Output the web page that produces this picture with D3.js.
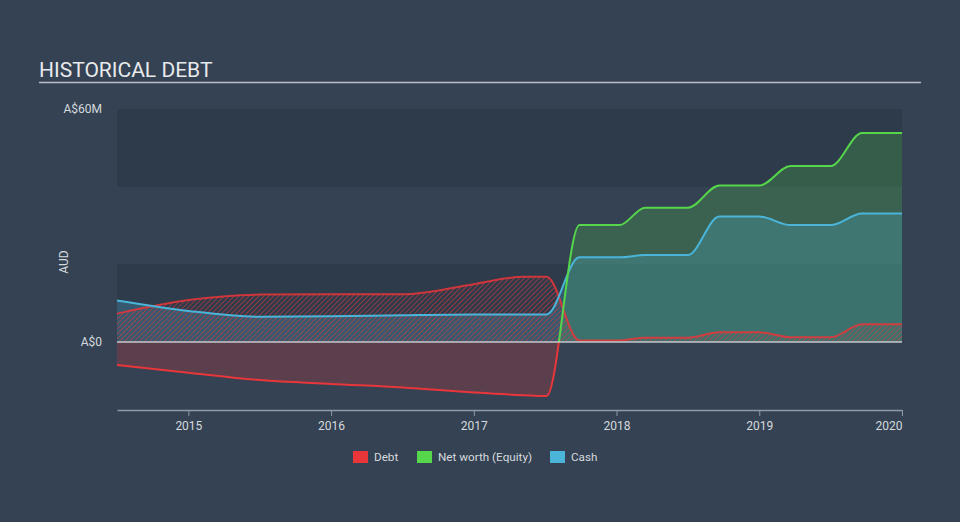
<!DOCTYPE html>
<html><head><meta charset="utf-8">
<script src="https://cdn.jsdelivr.net/npm/d3@7/dist/d3.min.js"></script>
<style>
html,body{margin:0;padding:0;background:#344253;}
svg{display:block;font-family:Roboto,"Noto Sans",sans-serif;}
</style></head>
<body>
<svg id="chart" width="960" height="522"></svg>
<script>
// ---- data (A$ millions) ----
const dates  = [2014.5, 2015.0, 2015.5, 2016.0, 2016.5, 2017.0, 2017.35, 2017.51, 2017.74, 2018.02, 2018.2, 2018.5, 2018.72, 2019.0, 2019.22, 2019.5, 2019.72, 2020.0];
const debt   = [7.3, 10.8, 12.2, 12.3, 12.3, 14.9, 16.8, 16.8, 0.4, 0.4, 1.1, 1.1, 2.5, 2.5, 1.2, 1.2, 4.6, 4.6];
const equity = [-5.9, -7.9, -9.8, -10.8, -11.7, -13.0, -13.7, -13.9, 30.1, 30.1, 34.6, 34.6, 40.3, 40.3, 45.3, 45.3, 53.8, 53.8];
const cash   = [10.7, 8.0, 6.5, 6.6, 6.9, 7.1, 7.1, 7.1, 21.8, 21.8, 22.4, 22.4, 32.3, 32.3, 30.1, 30.1, 33.1, 33.1];
const yearTicks = [2015, 2016, 2017, 2018, 2019, 2020];
const yTickValues = [0, 60];
const yTickLabels = ["A$0", "A$60M"];
const seriesNames = ["Debt", "Net worth (Equity)", "Cash"];
const seriesColors = ["#e8363a", "#55d64b", "#4ab5d9"];

const svg = d3.select("#chart");
const W = 960, H = 522;
const L = 117, R = 902, T = 109, B = 410;

const x = d3.scaleLinear().domain([2014.5, 2020.0]).range([L, R]);
const y = d3.scaleLinear().domain([0, 60]).range([342, T]);
const y0 = y(0);

// title
svg.append("text").attr("x", 39).attr("y", 77).attr("fill", "#e8eaec")
  .attr("font-size", 21).text("HISTORICAL DEBT");
svg.append("line").attr("x1", 39).attr("x2", 921).attr("y1", 82.5).attr("y2", 82.5)
  .attr("stroke", "#b9c0c8").attr("stroke-width", 1.5);

// bands
const bandEdges = [60, 40, 20, 0];
for (let i = 0; i < 3; i++) {
  if (i % 2 === 0) {
    svg.append("rect").attr("x", L).attr("width", R - L)
      .attr("y", y(bandEdges[i])).attr("height", y(bandEdges[i + 1]) - y(bandEdges[i]))
      .attr("fill", "#2e3b4b");
  }
}

// defs
const defs = svg.append("defs");
const pat = defs.append("pattern").attr("id", "hatch").attr("patternUnits", "userSpaceOnUse")
  .attr("width", 3.5).attr("height", 3.5).attr("patternTransform", "rotate(45)");
pat.append("line").attr("x1", 0).attr("y1", 0).attr("x2", 0).attr("y2", 3.5)
  .attr("stroke", "#e8363a").attr("stroke-width", 1.5).attr("stroke-opacity", 0.7);
defs.append("clipPath").attr("id", "above").append("rect")
  .attr("x", L).attr("y", 0).attr("width", R - L).attr("height", y0);
defs.append("clipPath").attr("id", "below").append("rect")
  .attr("x", L).attr("y", y0).attr("width", R - L).attr("height", H - y0);

const idx = d3.range(dates.length);
const curve = d3.curveMonotoneX;
const area = (vals) => d3.area().curve(curve).x(i => x(dates[i])).y0(y0).y1(i => y(vals[i]));
const line = (vals) => d3.line().curve(curve).x(i => x(dates[i])).y(i => y(vals[i]));

// equity fills
svg.append("path").datum(idx).attr("d", area(equity)).attr("clip-path", "url(#above)")
  .attr("fill", "#55d64b").attr("fill-opacity", 0.22);
svg.append("path").datum(idx).attr("d", area(equity)).attr("clip-path", "url(#below)")
  .attr("fill", "#e8363a").attr("fill-opacity", 0.22);
// cash fill
svg.append("path").datum(idx).attr("d", area(cash))
  .attr("fill", "#4ab5d9").attr("fill-opacity", 0.25);
// debt hatch
svg.append("path").datum(idx).attr("d", area(debt)).attr("fill", "url(#hatch)");

// lines
svg.append("path").datum(idx).attr("d", line(debt)).attr("fill", "none")
  .attr("stroke", "#e8363a").attr("stroke-width", 2).attr("stroke-opacity", 0.85);
svg.append("path").datum(idx).attr("d", line(cash)).attr("fill", "none")
  .attr("stroke", "#4ab5d9").attr("stroke-width", 2);
svg.append("path").datum(idx).attr("d", line(equity)).attr("fill", "none").attr("clip-path", "url(#above)")
  .attr("stroke", "#55d64b").attr("stroke-width", 2);
svg.append("path").datum(idx).attr("d", line(equity)).attr("fill", "none").attr("clip-path", "url(#below)")
  .attr("stroke", "#e8363a").attr("stroke-width", 2);

// zero line
svg.append("line").attr("x1", L).attr("x2", R).attr("y1", y0).attr("y2", y0)
  .attr("stroke", "#c6c9cd").attr("stroke-width", 1.5);

// y labels
yTickValues.forEach((v, i) => {
  svg.append("text").attr("x", 102).attr("y", y(v)).attr("dy", "0.35em")
    .attr("text-anchor", "end").attr("fill", "#d6dade").attr("font-size", 12).text(yTickLabels[i]);
});
svg.append("text").attr("transform", `translate(68,262) rotate(-90)`)
  .attr("text-anchor", "middle").attr("fill", "#d6dade").attr("font-size", 12).text("AUD");

// x axis
const xAxis = d3.axisBottom(x).tickValues(yearTicks).tickFormat(d3.format("d")).tickSize(6).tickSizeOuter(0);
const gx = svg.append("g").attr("transform", `translate(0,${B})`).call(xAxis);
gx.select(".domain").attr("stroke", "#8e9aa8").attr("stroke-width", 1.5);
gx.selectAll(".tick line").attr("stroke", "#8e9aa8");
gx.selectAll(".tick text").attr("fill", "#d6dade").attr("font-size", 12)
  .attr("font-family", "Roboto, sans-serif").attr("dy", "0.9em");
gx.select(".tick:last-of-type text").attr("text-anchor", "end");

// legend
const legX = [353, 417, 550];
seriesNames.forEach((n, i) => {
  svg.append("rect").attr("x", legX[i]).attr("y", 451).attr("width", 15).attr("height", 12)
    .attr("fill", seriesColors[i]);
  svg.append("text").attr("x", legX[i] + 21).attr("y", 457).attr("dy", "0.35em")
    .attr("fill", "#d6dade").attr("font-size", 11.7).text(n);
});
</script>
</body></html>
